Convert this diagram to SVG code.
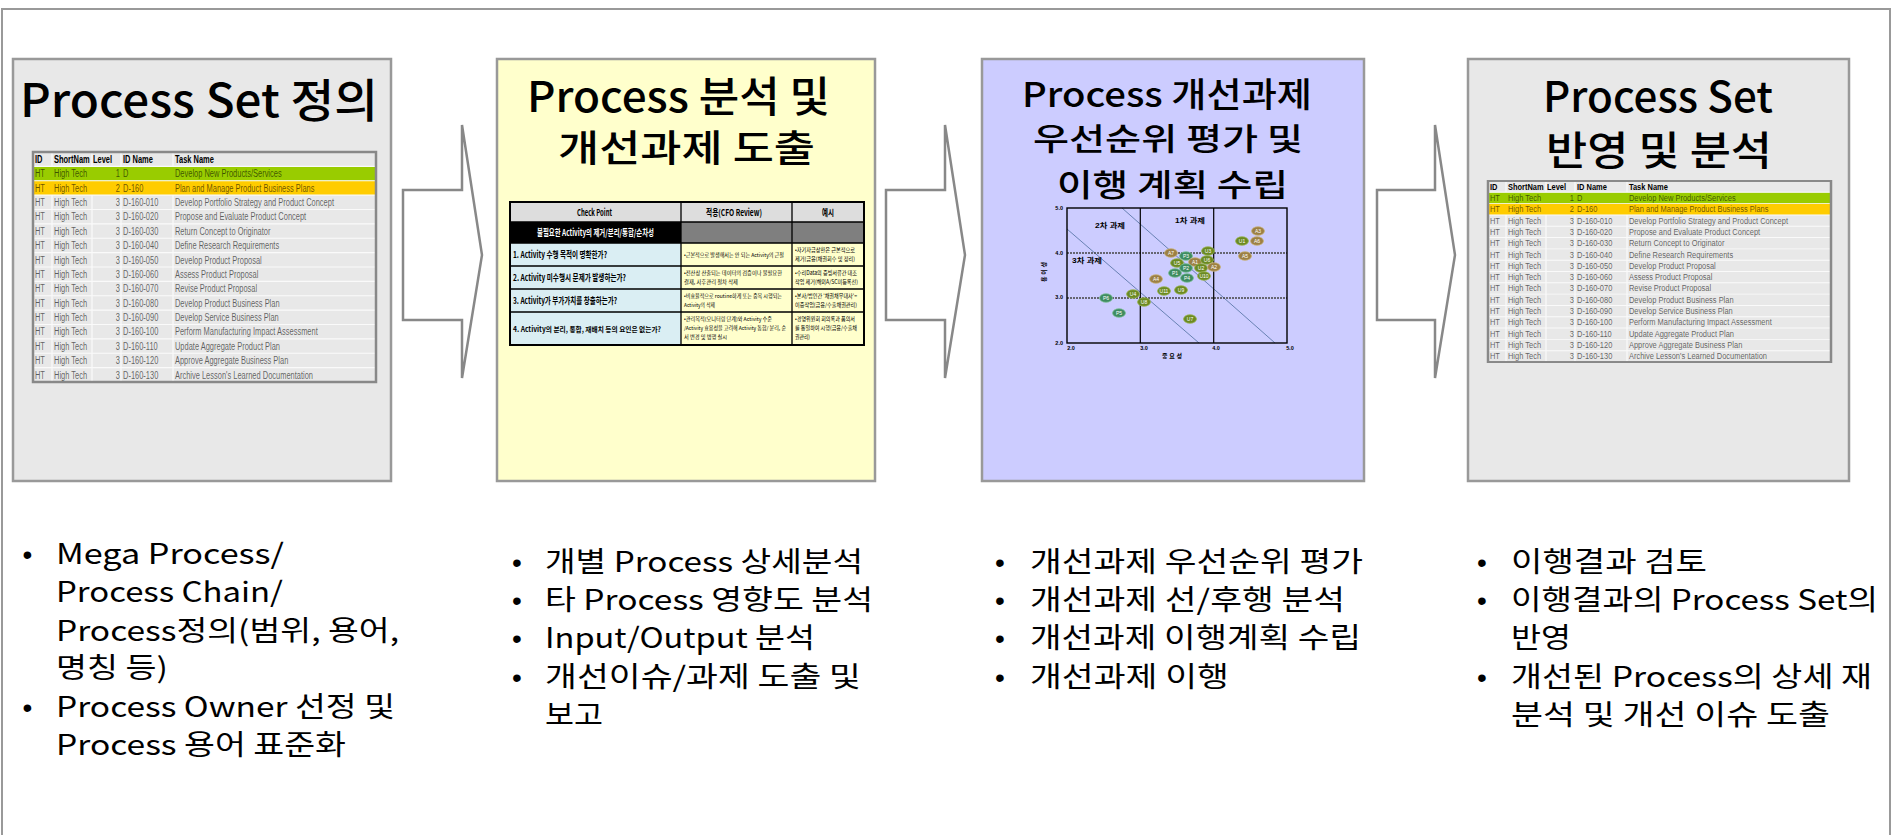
<svg xmlns="http://www.w3.org/2000/svg" width="1893" height="835" viewBox="0 0 1893 835">
<style>
.frame{fill:#fff;stroke:#999;stroke-width:2}
.box{stroke:#999;stroke-width:2.5}
.ttl{font-family:"Noto Sans CJK KR","Noto Sans",sans-serif;font-weight:500;fill:#000}
.bl{font-family:"Noto Sans CJK KR","Noto Sans",sans-serif;font-size:28px;fill:#000}
.dot{font-family:"Liberation Sans",Arial,sans-serif;font-size:28px;text-anchor:middle;fill:#000}
.arrow{fill:#fff;stroke:#888;stroke-width:2.5}
.tb{font-family:"Liberation Sans",Arial,sans-serif;font-size:11px}
.th{font-weight:bold;fill:#000}
.td{fill:#000;fill-opacity:.6}
.grid{stroke:#fafafa;stroke-width:1.2;fill:none}
.tbord{fill:none;stroke:#888;stroke-width:2.5}
.ck{font-family:"Noto Sans CJK KR","Liberation Sans",sans-serif;font-weight:bold;font-size:9px;fill:#000}
.ck4{font-size:7.4px}
.cs{font-family:"Noto Sans CJK KR","Liberation Sans",sans-serif;font-size:5.6px;fill:#000}
.cs2{font-size:5.2px}
.cl{stroke:#000;stroke-width:1.3;fill:none}
.ax{font-family:"Liberation Sans","Noto Sans CJK KR",sans-serif;font-weight:bold;font-size:5.5px;fill:#000}
.axl{font-size:6.5px}
.axt{font-size:6px}
.bA{fill:#9c8044;stroke:#c9b27a;stroke-width:.8}
.bU{fill:#6b8a22;stroke:#9bb555;stroke-width:.8}
.bP{fill:#3e8c60;stroke:#7cbf98;stroke-width:.8}
.bt{font-family:"Liberation Sans",sans-serif;font-size:5px;fill:#fff;text-anchor:middle}
</style>

<rect class="frame" x="2" y="9" width="1888" height="840"/>

<!-- Node 1 -->
<g id="node-process-set-definition">
<rect class="box" x="13" y="59" width="378" height="422" fill="#e8e8e8"/>
<text class="ttl" x="20" y="117" font-size="46" textLength="358" lengthAdjust="spacingAndGlyphs">Process Set 정의</text>
<g transform="translate(33,152)">
<rect width="343" height="230" fill="#e8e8e8"/>
<rect y="14.375" width="343" height="14.375" fill="#99cc00"/>
<rect y="28.75" width="343" height="14.375" fill="#ffcc00"/>
<path class="grid" d="M0 14.375H343M0 28.75H343M0 43.125H343M0 57.5H343M0 71.875H343M0 86.25H343M0 100.625H343M0 115H343M0 129.375H343M0 143.75H343M0 158.125H343M0 172.5H343M0 186.875H343M0 201.25H343M0 215.625H343M19 0V14.375M59 0V14.375M88 0V14.375M140 0V14.375M19 43.125V230M59 43.125V230M88 43.125V230M140 43.125V230"/>
<rect class="tbord" width="343" height="230"/>
<g class="tb" transform="scale(0.68,1)">
<text class="th" y="11"><tspan x="2.9">ID</tspan><tspan x="30.9">ShortNam</tspan><tspan x="88.2">Level</tspan><tspan x="132.4">ID Name</tspan><tspan x="208.8">Task Name</tspan></text>
<text class="td" y="25.4"><tspan x="2.9">HT</tspan><tspan x="30.9">High Tech</tspan><tspan x="132.4">D</tspan><tspan x="208.8">Develop New Products/Services</tspan></text>
<text class="td" y="39.75"><tspan x="2.9">HT</tspan><tspan x="30.9">High Tech</tspan><tspan x="132.4">D-160</tspan><tspan x="208.8">Plan and Manage Product Business Plans</tspan></text>
<text class="td" y="54.1"><tspan x="2.9">HT</tspan><tspan x="30.9">High Tech</tspan><tspan x="132.4">D-160-010</tspan><tspan x="208.8">Develop Portfolio Strategy and Product Concept</tspan></text>
<text class="td" y="68.5"><tspan x="2.9">HT</tspan><tspan x="30.9">High Tech</tspan><tspan x="132.4">D-160-020</tspan><tspan x="208.8">Propose and Evaluate Product Concept</tspan></text>
<text class="td" y="82.9"><tspan x="2.9">HT</tspan><tspan x="30.9">High Tech</tspan><tspan x="132.4">D-160-030</tspan><tspan x="208.8">Return Concept to Originator</tspan></text>
<text class="td" y="97.25"><tspan x="2.9">HT</tspan><tspan x="30.9">High Tech</tspan><tspan x="132.4">D-160-040</tspan><tspan x="208.8">Define Research Requirements</tspan></text>
<text class="td" y="111.6"><tspan x="2.9">HT</tspan><tspan x="30.9">High Tech</tspan><tspan x="132.4">D-160-050</tspan><tspan x="208.8">Develop Product Proposal</tspan></text>
<text class="td" y="126"><tspan x="2.9">HT</tspan><tspan x="30.9">High Tech</tspan><tspan x="132.4">D-160-060</tspan><tspan x="208.8">Assess Product Proposal</tspan></text>
<text class="td" y="140.4"><tspan x="2.9">HT</tspan><tspan x="30.9">High Tech</tspan><tspan x="132.4">D-160-070</tspan><tspan x="208.8">Revise Product Proposal</tspan></text>
<text class="td" y="154.75"><tspan x="2.9">HT</tspan><tspan x="30.9">High Tech</tspan><tspan x="132.4">D-160-080</tspan><tspan x="208.8">Develop Product Business Plan</tspan></text>
<text class="td" y="169.1"><tspan x="2.9">HT</tspan><tspan x="30.9">High Tech</tspan><tspan x="132.4">D-160-090</tspan><tspan x="208.8">Develop Service Business Plan</tspan></text>
<text class="td" y="183.5"><tspan x="2.9">HT</tspan><tspan x="30.9">High Tech</tspan><tspan x="132.4">D-160-100</tspan><tspan x="208.8">Perform Manufacturing Impact Assessment</tspan></text>
<text class="td" y="197.9"><tspan x="2.9">HT</tspan><tspan x="30.9">High Tech</tspan><tspan x="132.4">D-160-110</tspan><tspan x="208.8">Update Aggregate Product Plan</tspan></text>
<text class="td" y="212.25"><tspan x="2.9">HT</tspan><tspan x="30.9">High Tech</tspan><tspan x="132.4">D-160-120</tspan><tspan x="208.8">Approve Aggregate Business Plan</tspan></text>
<text class="td" y="226.6"><tspan x="2.9">HT</tspan><tspan x="30.9">High Tech</tspan><tspan x="132.4">D-160-130</tspan><tspan x="208.8">Archive Lesson's Learned Documentation</tspan></text>
<g class="td" text-anchor="end">
<text x="127.9" y="25.4">1</text><text x="127.9" y="39.75">2</text><text x="127.9" y="54.1">3</text><text x="127.9" y="68.5">3</text><text x="127.9" y="82.9">3</text><text x="127.9" y="97.25">3</text><text x="127.9" y="111.6">3</text><text x="127.9" y="126">3</text><text x="127.9" y="140.4">3</text><text x="127.9" y="154.75">3</text><text x="127.9" y="169.1">3</text><text x="127.9" y="183.5">3</text><text x="127.9" y="197.9">3</text><text x="127.9" y="212.25">3</text><text x="127.9" y="226.6">3</text>
</g>
</g>
</g>
<g id="bullets-1">
<text class="dot" x="27.5" y="564">•</text>
<text class="bl" x="56" y="564" textLength="228" lengthAdjust="spacingAndGlyphs">Mega Process/</text>
<text class="bl" x="56" y="602" textLength="227" lengthAdjust="spacingAndGlyphs">Process Chain/</text>
<text class="bl" x="56" y="641" textLength="343" lengthAdjust="spacingAndGlyphs">Process정의(범위, 용어,</text>
<text class="bl" x="56" y="678" textLength="112" lengthAdjust="spacingAndGlyphs">명칭 등)</text>
<text class="dot" x="27.5" y="717">•</text>
<text class="bl" x="56" y="717" textLength="339" lengthAdjust="spacingAndGlyphs">Process Owner 선정 및</text>
<text class="bl" x="56" y="755" textLength="290" lengthAdjust="spacingAndGlyphs">Process 용어 표준화</text>
</g>
</g>

<!-- Node 2 -->
<g id="node-process-analysis">
<rect class="box" x="497" y="59" width="378" height="422" fill="#ffffcc"/>
<text class="ttl" x="527" y="112" font-size="42" textLength="303" lengthAdjust="spacingAndGlyphs">Process 분석 및</text>
<text class="ttl" x="558" y="162" font-size="37" textLength="257" lengthAdjust="spacingAndGlyphs">개선과제 도출</text>
<g id="checkpoint-table">
<rect x="510" y="202" width="354" height="20" fill="#dddddd"/>
<rect x="510" y="222" width="171" height="21" fill="#000"/>
<rect x="681" y="222" width="183" height="21" fill="#7f7f7f"/>
<rect x="510" y="243" width="171" height="102" fill="#daeef3"/>
<rect x="681" y="243" width="183" height="102" fill="#ffffcc"/>
<path class="cl" d="M510 222H864M510 243H864M510 266H864M510 289H864M510 312H864M681 202V345M792 202V345"/>
<rect x="510" y="202" width="354" height="143" fill="none" stroke="#000" stroke-width="2"/>
<text class="ck" x="577" y="216" textLength="35" lengthAdjust="spacingAndGlyphs">Check Point</text>
<text class="ck" x="706" y="216" textLength="56" lengthAdjust="spacingAndGlyphs">적용(CFO Review)</text>
<text class="ck" x="822" y="216" textLength="12" lengthAdjust="spacingAndGlyphs">예시</text>
<text class="ck" x="537" y="236" style="fill:#fff" textLength="117" lengthAdjust="spacingAndGlyphs">불필요한 Activity의 제거/분리/통합/순차성</text>
<text class="ck" x="513" y="258" textLength="94" lengthAdjust="spacingAndGlyphs">1. Activity 수행 목적이 명확한가?</text>
<text class="ck" x="513" y="281" textLength="113" lengthAdjust="spacingAndGlyphs">2. Activity 미수행시 문제가 발생하는가?</text>
<text class="ck" x="513" y="304" textLength="104" lengthAdjust="spacingAndGlyphs">3. Activity가 부가가치를 창출하는가?</text>
<text class="ck ck4" x="513" y="332" textLength="148" lengthAdjust="spacingAndGlyphs">4. Activity의 분리, 통합, 재배치 등의 요인은 없는가?</text>
<text class="cs cs2" x="684" y="257" textLength="100" lengthAdjust="spacingAndGlyphs">•근본적으로 발생해서는 안 되는 Activity의 근절</text>
<text class="cs cs2" x="684" y="275" textLength="98" lengthAdjust="spacingAndGlyphs">•전산상 산출되는 데이터의 검증이나 불필요한</text>
<text class="cs cs2" x="684" y="284" textLength="54" lengthAdjust="spacingAndGlyphs">결재, 사후관리 절차 삭제</text>
<text class="cs cs2" x="684" y="298" textLength="98" lengthAdjust="spacingAndGlyphs">•비효율적으로 routine하게 또는 중복 시행되는</text>
<text class="cs cs2" x="684" y="307" textLength="31" lengthAdjust="spacingAndGlyphs">Activity의 삭제</text>
<text class="cs cs2" x="684" y="321" textLength="88" lengthAdjust="spacingAndGlyphs">•관리목적(모니터링 단계)와 Activity 수준</text>
<text class="cs cs2" x="684" y="330" textLength="102" lengthAdjust="spacingAndGlyphs">/Activity 효용성을 고려해 Activity 통합/ 분리, 순</text>
<text class="cs cs2" x="684" y="339" textLength="43" lengthAdjust="spacingAndGlyphs">서 변경 및 병행 실시</text>
<text class="cs" x="795" y="252" textLength="60" lengthAdjust="spacingAndGlyphs">•자기자금상환은 근본적으로</text>
<text class="cs" x="795" y="261" textLength="60" lengthAdjust="spacingAndGlyphs">제거(금융(채권회수 및 정리)</text>
<text class="cs" x="795" y="275" textLength="62" lengthAdjust="spacingAndGlyphs">•수리Data의 증빙서류간 대조</text>
<text class="cs" x="795" y="284" textLength="63" lengthAdjust="spacingAndGlyphs">작업 제거(해외A/SC미등록선)</text>
<text class="cs" x="795" y="298" textLength="62" lengthAdjust="spacingAndGlyphs">•본사/법인간 '채권채무대사'=</text>
<text class="cs" x="795" y="307" textLength="62" lengthAdjust="spacingAndGlyphs">이중작업(금융/수출채권관리)</text>
<text class="cs" x="795" y="321" textLength="60" lengthAdjust="spacingAndGlyphs">•경영위원회 회의록과 품의서</text>
<text class="cs" x="795" y="330" textLength="62" lengthAdjust="spacingAndGlyphs">를 통일하여 시행(금융/수출채</text>
<text class="cs" x="795" y="339" textLength="15" lengthAdjust="spacingAndGlyphs">권관리)</text>
</g>
<g id="bullets-2">
<text class="dot" x="517" y="572">•</text>
<text class="bl" x="545" y="572" textLength="318" lengthAdjust="spacingAndGlyphs">개별 Process 상세분석</text>
<text class="dot" x="517" y="610">•</text>
<text class="bl" x="545" y="610" textLength="328" lengthAdjust="spacingAndGlyphs">타 Process 영향도 분석</text>
<text class="dot" x="517" y="648">•</text>
<text class="bl" x="545" y="648" textLength="270" lengthAdjust="spacingAndGlyphs">Input/Output 분석</text>
<text class="dot" x="517" y="687">•</text>
<text class="bl" x="545" y="687" textLength="316" lengthAdjust="spacingAndGlyphs">개선이슈/과제 도출 및</text>
<text class="bl" x="545" y="725" textLength="58" lengthAdjust="spacingAndGlyphs">보고</text>
</g>
</g>

<!-- Node 3 -->
<g id="node-priority-evaluation">
<rect class="box" x="982" y="59" width="382" height="422" fill="#ccccff"/>
<text class="ttl" x="1022" y="107" font-size="34" textLength="290" lengthAdjust="spacingAndGlyphs">Process 개선과제</text>
<text class="ttl" x="1033" y="150" font-size="31" textLength="270" lengthAdjust="spacingAndGlyphs">우선순위 평가 및</text>
<text class="ttl" x="1057" y="196" font-size="31" textLength="231" lengthAdjust="spacingAndGlyphs">이행 계획 수립</text>
<g id="priority-chart">
<path d="M1067 229L1199 343M1122 208L1275 343" stroke="#4f6f9f" stroke-width=".8" fill="none"/>
<path d="M1067 253H1287M1067 298H1287" stroke="#444" stroke-width="1.4" stroke-dasharray="2 1" fill="none"/>
<path d="M1140.3 208V343M1213.7 208V343" stroke="#000" stroke-width="1.2" fill="none"/>
<rect x="1067" y="208" width="220" height="135" fill="none" stroke="#000" stroke-width="1.4"/>
<text class="ax axl" x="1175" y="223" textLength="30" lengthAdjust="spacingAndGlyphs">1차 과제</text>
<text class="ax axl" x="1095" y="228" textLength="30" lengthAdjust="spacingAndGlyphs">2차 과제</text>
<text class="ax axl" x="1072" y="263" textLength="30" lengthAdjust="spacingAndGlyphs">3차 과제</text>
<g text-anchor="end">
<text class="ax" x="1063" y="210">5.0</text>
<text class="ax" x="1063" y="255">4.0</text>
<text class="ax" x="1063" y="299">3.0</text>
<text class="ax" x="1063" y="345">2.0</text>
</g>
<g text-anchor="middle">
<text class="ax" x="1071" y="350">2.0</text>
<text class="ax" x="1144" y="350">3.0</text>
<text class="ax" x="1216" y="350">4.0</text>
<text class="ax" x="1290" y="350">5.0</text>
<text class="ax axt" x="1172" y="358">중 요 성</text>
<text class="ax axt" x="0" y="0" transform="translate(1046,272) rotate(-90)">용 이 성</text>
</g>
<g id="bubbles">
<ellipse class="bA" cx="1258" cy="231" rx="6.5" ry="4.3"/><text class="bt" x="1258" y="232.8">A3</text>
<ellipse class="bU" cx="1242" cy="241" rx="6.5" ry="4.3"/><text class="bt" x="1242" y="242.8">U1</text>
<ellipse class="bA" cx="1257" cy="241" rx="6.5" ry="4.3"/><text class="bt" x="1257" y="242.8">A6</text>
<ellipse class="bA" cx="1245" cy="256" rx="6.5" ry="4.3"/><text class="bt" x="1245" y="257.8">A5</text>
<ellipse class="bU" cx="1208" cy="251" rx="6.5" ry="4.3"/><text class="bt" x="1208" y="252.8">U3</text>
<ellipse class="bA" cx="1171" cy="253" rx="6.5" ry="4.3"/><text class="bt" x="1171" y="254.8">A7</text>
<ellipse class="bP" cx="1186" cy="256" rx="6.5" ry="4.3"/><text class="bt" x="1186" y="257.8">P3</text>
<ellipse class="bU" cx="1177" cy="263" rx="6.5" ry="4.3"/><text class="bt" x="1177" y="264.8">U5</text>
<ellipse class="bA" cx="1195" cy="262" rx="6.5" ry="4.3"/><text class="bt" x="1195" y="263.8">A1</text>
<ellipse class="bU" cx="1207" cy="260" rx="6.5" ry="4.3"/><text class="bt" x="1207" y="261.8">U6</text>
<ellipse class="bP" cx="1186" cy="268" rx="6.5" ry="4.3"/><text class="bt" x="1186" y="269.8">P2</text>
<ellipse class="bU" cx="1201" cy="268" rx="6.5" ry="4.3"/><text class="bt" x="1201" y="269.8">U2</text>
<ellipse class="bA" cx="1214" cy="267" rx="6.5" ry="4.3"/><text class="bt" x="1214" y="268.8">A2</text>
<ellipse class="bP" cx="1175" cy="273" rx="6.5" ry="4.3"/><text class="bt" x="1175" y="274.8">P1</text>
<ellipse class="bP" cx="1187" cy="278" rx="6.5" ry="4.3"/><text class="bt" x="1187" y="279.8">P4</text>
<ellipse class="bU" cx="1204" cy="276" rx="6.5" ry="4.3"/><text class="bt" x="1204" y="277.8">U10</text>
<ellipse class="bA" cx="1156" cy="279" rx="6.5" ry="4.3"/><text class="bt" x="1156" y="280.8">A4</text>
<ellipse class="bU" cx="1164" cy="291" rx="6.5" ry="4.3"/><text class="bt" x="1164" y="292.8">U11</text>
<ellipse class="bU" cx="1181" cy="290" rx="6.5" ry="4.3"/><text class="bt" x="1181" y="291.8">U9</text>
<ellipse class="bU" cx="1133" cy="294" rx="6.5" ry="4.3"/><text class="bt" x="1133" y="295.8">U4</text>
<ellipse class="bP" cx="1106" cy="298" rx="6.5" ry="4.3"/><text class="bt" x="1106" y="299.8">P6</text>
<ellipse class="bU" cx="1144" cy="302" rx="6.5" ry="4.3"/><text class="bt" x="1144" y="303.8">U8</text>
<ellipse class="bP" cx="1119" cy="313" rx="6.5" ry="4.3"/><text class="bt" x="1119" y="314.8">P5</text>
<ellipse class="bU" cx="1190" cy="319" rx="6.5" ry="4.3"/><text class="bt" x="1190" y="320.8">U7</text>
</g>
</g>
<g id="bullets-3">
<text class="dot" x="1000" y="572">•</text>
<text class="bl" x="1030" y="572" textLength="333" lengthAdjust="spacingAndGlyphs">개선과제 우선순위 평가</text>
<text class="dot" x="1000" y="610">•</text>
<text class="bl" x="1030" y="610" textLength="315" lengthAdjust="spacingAndGlyphs">개선과제 선/후행 분석</text>
<text class="dot" x="1000" y="648">•</text>
<text class="bl" x="1030" y="648" textLength="331" lengthAdjust="spacingAndGlyphs">개선과제 이행계획 수립</text>
<text class="dot" x="1000" y="687">•</text>
<text class="bl" x="1030" y="687" textLength="199" lengthAdjust="spacingAndGlyphs">개선과제 이행</text>
</g>
</g>

<!-- Node 4 -->
<g id="node-process-set-reflection">
<rect class="box" x="1468" y="59" width="381" height="422" fill="#e8e8e8"/>
<text class="ttl" x="1543" y="112" font-size="42" textLength="230" lengthAdjust="spacingAndGlyphs">Process Set</text>
<text class="ttl" x="1546" y="165" font-size="40" textLength="226" lengthAdjust="spacingAndGlyphs">반영 및 분석</text>
<g transform="translate(1488,181) scale(1,0.787)">
<rect width="343" height="230" fill="#e8e8e8"/>
<rect y="14.375" width="343" height="14.375" fill="#99cc00"/>
<rect y="28.75" width="343" height="14.375" fill="#ffcc00"/>
<path class="grid" d="M0 14.375H343M0 28.75H343M0 43.125H343M0 57.5H343M0 71.875H343M0 86.25H343M0 100.625H343M0 115H343M0 129.375H343M0 143.75H343M0 158.125H343M0 172.5H343M0 186.875H343M0 201.25H343M0 215.625H343M18 0V14.375M58 0V14.375M87 0V14.375M139 0V14.375M18 43.125V230M58 43.125V230M87 43.125V230M139 43.125V230"/>
<rect class="tbord" width="343" height="230"/>
<g class="tb" transform="scale(0.68,1)">
<text class="th" y="11"><tspan x="2.9">ID</tspan><tspan x="29.4">ShortNam</tspan><tspan x="86.7">Level</tspan><tspan x="130.9">ID Name</tspan><tspan x="207.3">Task Name</tspan></text>
<text class="td" y="25.4"><tspan x="2.9">HT</tspan><tspan x="29.4">High Tech</tspan><tspan x="130.9">D</tspan><tspan x="207.3">Develop New Products/Services</tspan></text>
<text class="td" y="39.75"><tspan x="2.9">HT</tspan><tspan x="29.4">High Tech</tspan><tspan x="130.9">D-160</tspan><tspan x="207.3">Plan and Manage Product Business Plans</tspan></text>
<text class="td" y="54.1"><tspan x="2.9">HT</tspan><tspan x="29.4">High Tech</tspan><tspan x="130.9">D-160-010</tspan><tspan x="207.3">Develop Portfolio Strategy and Product Concept</tspan></text>
<text class="td" y="68.5"><tspan x="2.9">HT</tspan><tspan x="29.4">High Tech</tspan><tspan x="130.9">D-160-020</tspan><tspan x="207.3">Propose and Evaluate Product Concept</tspan></text>
<text class="td" y="82.9"><tspan x="2.9">HT</tspan><tspan x="29.4">High Tech</tspan><tspan x="130.9">D-160-030</tspan><tspan x="207.3">Return Concept to Originator</tspan></text>
<text class="td" y="97.25"><tspan x="2.9">HT</tspan><tspan x="29.4">High Tech</tspan><tspan x="130.9">D-160-040</tspan><tspan x="207.3">Define Research Requirements</tspan></text>
<text class="td" y="111.6"><tspan x="2.9">HT</tspan><tspan x="29.4">High Tech</tspan><tspan x="130.9">D-160-050</tspan><tspan x="207.3">Develop Product Proposal</tspan></text>
<text class="td" y="126"><tspan x="2.9">HT</tspan><tspan x="29.4">High Tech</tspan><tspan x="130.9">D-160-060</tspan><tspan x="207.3">Assess Product Proposal</tspan></text>
<text class="td" y="140.4"><tspan x="2.9">HT</tspan><tspan x="29.4">High Tech</tspan><tspan x="130.9">D-160-070</tspan><tspan x="207.3">Revise Product Proposal</tspan></text>
<text class="td" y="154.75"><tspan x="2.9">HT</tspan><tspan x="29.4">High Tech</tspan><tspan x="130.9">D-160-080</tspan><tspan x="207.3">Develop Product Business Plan</tspan></text>
<text class="td" y="169.1"><tspan x="2.9">HT</tspan><tspan x="29.4">High Tech</tspan><tspan x="130.9">D-160-090</tspan><tspan x="207.3">Develop Service Business Plan</tspan></text>
<text class="td" y="183.5"><tspan x="2.9">HT</tspan><tspan x="29.4">High Tech</tspan><tspan x="130.9">D-160-100</tspan><tspan x="207.3">Perform Manufacturing Impact Assessment</tspan></text>
<text class="td" y="197.9"><tspan x="2.9">HT</tspan><tspan x="29.4">High Tech</tspan><tspan x="130.9">D-160-110</tspan><tspan x="207.3">Update Aggregate Product Plan</tspan></text>
<text class="td" y="212.25"><tspan x="2.9">HT</tspan><tspan x="29.4">High Tech</tspan><tspan x="130.9">D-160-120</tspan><tspan x="207.3">Approve Aggregate Business Plan</tspan></text>
<text class="td" y="226.6"><tspan x="2.9">HT</tspan><tspan x="29.4">High Tech</tspan><tspan x="130.9">D-160-130</tspan><tspan x="207.3">Archive Lesson's Learned Documentation</tspan></text>
<g class="td" text-anchor="end">
<text x="126.4" y="25.4">1</text><text x="126.4" y="39.75">2</text><text x="126.4" y="54.1">3</text><text x="126.4" y="68.5">3</text><text x="126.4" y="82.9">3</text><text x="126.4" y="97.25">3</text><text x="126.4" y="111.6">3</text><text x="126.4" y="126">3</text><text x="126.4" y="140.4">3</text><text x="126.4" y="154.75">3</text><text x="126.4" y="169.1">3</text><text x="126.4" y="183.5">3</text><text x="126.4" y="197.9">3</text><text x="126.4" y="212.25">3</text><text x="126.4" y="226.6">3</text>
</g>
</g>
</g>
<g id="bullets-4">
<text class="dot" x="1482" y="572">•</text>
<text class="bl" x="1511" y="572" textLength="196" lengthAdjust="spacingAndGlyphs">이행결과 검토</text>
<text class="dot" x="1482" y="610">•</text>
<text class="bl" x="1511" y="610" textLength="367" lengthAdjust="spacingAndGlyphs">이행결과의 Process Set의</text>
<text class="bl" x="1511" y="648" textLength="60" lengthAdjust="spacingAndGlyphs">반영</text>
<text class="dot" x="1482" y="687">•</text>
<text class="bl" x="1511" y="687" textLength="361" lengthAdjust="spacingAndGlyphs">개선된 Process의 상세 재</text>
<text class="bl" x="1511" y="725" textLength="319" lengthAdjust="spacingAndGlyphs">분석 및 개선 이슈 도출</text>
</g>
</g>

<!-- Connectors -->
<g id="connectors">
<polygon class="arrow" points="403,190 462,190 462,125 482,255 462,378 462,320 403,320"/>
<polygon class="arrow" points="886,190 945,190 945,125 965,255 945,378 945,320 886,320"/>
<polygon class="arrow" points="1377,190 1435,190 1435,125 1455,255 1435,378 1435,320 1377,320"/>
</g>
</svg>
